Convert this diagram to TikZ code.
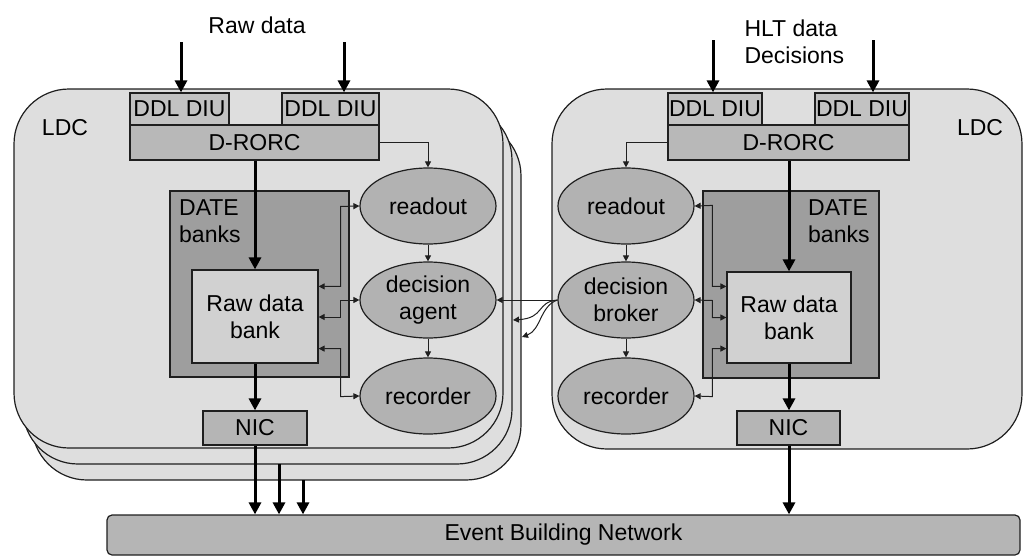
\documentclass[tikz,border=0pt]{standalone}
\usepackage{fontspec}
\setmainfont{Liberation Sans}
\usetikzlibrary{shapes.geometric,arrows.meta,calc}
\definecolor{ldcfill}{gray}{0.87}
\definecolor{ddlfill}{gray}{0.76}
\definecolor{rorcfill}{gray}{0.72}
\definecolor{ellfill}{gray}{0.70}
\definecolor{datefill}{gray}{0.62}
\definecolor{bankfill}{gray}{0.82}
\definecolor{nicfill}{gray}{0.71}
\definecolor{netfill}{gray}{0.71}
\definecolor{edge}{gray}{0.12}
\begin{document}
\begin{tikzpicture}[x=1pt,y=-1pt,
  txt/.style={font=\fontsize{23}{27}\selectfont},
  box/.style={draw=edge,line width=1.2pt,rectangle,inner sep=0pt,txt},
  ell/.style={draw=edge,line width=1.2pt,ellipse,fill=ellfill,inner sep=0pt,
    minimum width=136pt,minimum height=76pt,align=center,txt},
  ldc/.style={draw=edge,line width=1.2pt,fill=ldcfill,rounded corners=55pt},
  stip/.tip={Triangle[length=6pt,width=6pt]},
  btip/.tip={Triangle[length=12pt,width=12pt]},
  big/.style={line width=3pt,-btip},
  sml/.style={draw=edge,line width=1pt,-stip},
  smlb/.style={draw=edge,line width=1pt,stip-stip}]
\useasboundingbox (0,0) rectangle (1034,557);

% ---------- LDC boxes ----------
\draw[ldc] (32,121) rectangle (521,480);
\draw[ldc] (23,105) rectangle (512,464);
\draw[ldc] (14,89) rectangle (503,448);
\draw[ldc] (552,89) rectangle (1022,449);

% ---------- Event Building Network ----------
\node[box,fill=netfill,rounded corners=5pt,minimum width=913pt,minimum height=40pt]
  (net) at (563.5,535) {Event Building Network};

% ================= LEFT LDC =================
\node[txt] (ldcL) at (65,128) {LDC};
\node[txt] (rawL) at (257,25) {Raw data};
\node[box,fill=ddlfill,minimum width=99pt,minimum height=32pt] (ddl1L) at (179.5,109) {DDL DIU};
\node[box,fill=ddlfill,minimum width=97pt,minimum height=32pt] (ddl2L) at (330.5,109) {DDL DIU};
\node[box,fill=rorcfill,minimum width=249pt,minimum height=35pt] (rorcL) at (254.5,142.5) {D-RORC};
\node[box,fill=datefill,minimum width=179pt,minimum height=186pt] (dateL) at (259.5,284) {};
\node[txt,align=left,anchor=north west,inner sep=0pt] (datetL) at (179,199) {DATE\\banks};
\node[box,fill=bankfill,minimum width=126pt,minimum height=93pt,align=center] (bankL) at (255,316.5) {Raw data\\bank};
\node[box,fill=nicfill,minimum width=104pt,minimum height=34pt] (nicL) at (255,428) {NIC};
\node[ell] (readoutL) at (428,206) {readout};
\node[ell] (agentL) at (428,300) {decision\\agent};
\node[ell] (recorderL) at (428,396) {recorder};

\coordinate (in1L) at (181,42);
\coordinate (in2L) at (344,42);
\draw[big] (in1L) -- (in1L |- ddl1L.north);
\draw[big] (in2L) -- (in2L |- ddl2L.north);
\draw[big] (bankL.north |- rorcL.south) -- (bankL.north);
\draw[big] (bankL.south) -- (nicL.north);
\draw[big] (nicL.south) -- (nicL.south |- net.north);
\coordinate (b2out) at (279,464);
\coordinate (b3out) at (303,480);
\draw[big] (b2out) -- (b2out |- net.north);
\draw[big] (b3out) -- (b3out |- net.north);

\draw[sml] (rorcL.east) -| (readoutL.north);
\draw[sml] (readoutL.south) -- (agentL.north);
\draw[sml] (agentL.south) -- (recorderL.north);
\draw[smlb] ($(bankL.north east)+(0,17)$) -| ++(22,-80) -- (readoutL.west);
\draw[smlb] ($(bankL.east)+(0,0.5)$) -| ++(22,-17) -- (agentL.west);
\draw[smlb] ($(bankL.south east)+(0,-15)$) -| ++(22,48) -- (recorderL.west);

% ================= RIGHT LDC =================
\node[txt] (ldcR) at (980,128) {LDC};
\node[txt,align=left,anchor=west] (hlt) at (741,42) {HLT data\\Decisions};
\node[box,fill=ddlfill,minimum width=94pt,minimum height=32pt] (ddl1R) at (715,109) {DDL DIU};
\node[box,fill=ddlfill,minimum width=94pt,minimum height=32pt] (ddl2R) at (862,109) {DDL DIU};
\node[box,fill=rorcfill,minimum width=241pt,minimum height=35pt] (rorcR) at (788.5,142.5) {D-RORC};
\node[box,fill=datefill,minimum width=176pt,minimum height=187pt] (dateR) at (791,284.5) {};
\node[txt,align=left,anchor=north west,inner sep=0pt] (datetR) at (808,199) {DATE\\banks};
\node[box,fill=bankfill,minimum width=124pt,minimum height=91pt,align=center] (bankR) at (789,317.5) {Raw data\\bank};
\node[box,fill=nicfill,minimum width=103pt,minimum height=34pt] (nicR) at (788.5,428) {NIC};
\node[ell] (readoutR) at (626,206) {readout};
\node[ell] (brokerR) at (626,300) {decision\\broker};
\node[ell] (recorderR) at (626,396) {recorder};

\coordinate (in1R) at (713,40);
\coordinate (in2R) at (873,40);
\draw[big] (in1R) -- (in1R |- ddl1R.north);
\draw[big] (in2R) -- (in2R |- ddl2R.north);
\draw[big] (bankR.north |- rorcR.south) -- (bankR.north);
\draw[big] (bankR.south) -- (bankR.south |- nicR.north);
\draw[big] (bankR.south |- nicR.south) -- (bankR.south |- net.north);

\draw[sml] (rorcR.west) -| (readoutR.north);
\draw[sml] (readoutR.south) -- (brokerR.north);
\draw[sml] (brokerR.south) -- (recorderR.north);
\draw[smlb] ($(bankR.north west)+(0,15)$) -| ++(-14,-81) -- (readoutR.east);
\draw[smlb] (bankR.west) -| ++(-14,-17) -- (brokerR.east);
\draw[smlb] ($(bankR.south west)+(0,-15)$) -| ++(-14,48) -- (recorderR.east);

% ---------- broker to agents ----------
\coordinate (ag2) at (513,320);
\coordinate (ag3) at (522,337);
\draw[sml] (brokerR.west) -- (agentL.east);
\draw[sml] (brokerR.west) .. controls (536,302) and (545,318) .. (ag2);
\draw[sml] (brokerR.west) .. controls (540,306) and (541,330) .. (ag3);
\end{tikzpicture}
\end{document}
